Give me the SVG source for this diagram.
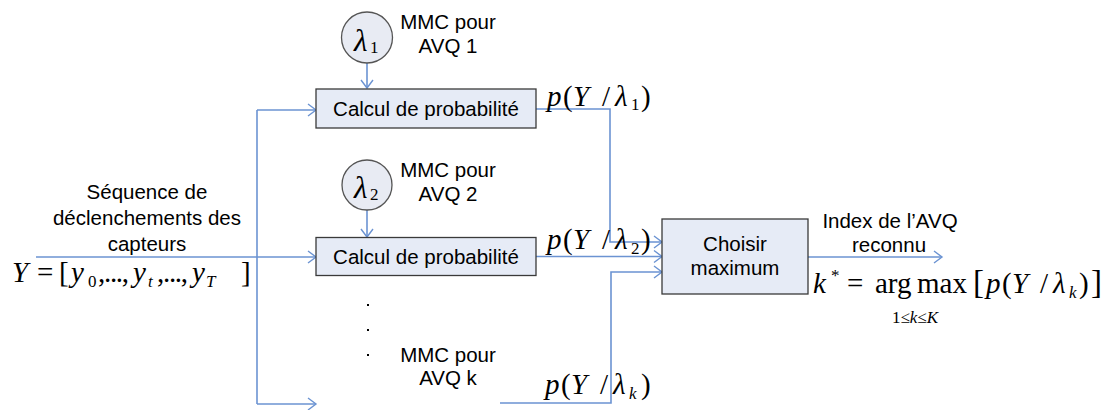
<svg xmlns="http://www.w3.org/2000/svg" width="1104" height="410" viewBox="0 0 1104 410">
<style>
.lbl{font-family:"Liberation Sans",Arial,sans-serif;font-size:20.5px;fill:#000}
.m{font-family:"Liberation Serif","Times New Roman",serif;font-size:29px;fill:#000}
.i{font-style:italic}
.s{font-size:17px}
.box{fill:#e6ebf6;stroke:#3a3a3a;stroke-width:1.3}
.circ{fill:#e8ebf3;stroke:#555;stroke-width:1.3}
.ln{fill:none;stroke:#6b93d2;stroke-width:1.6}
</style>
<defs>
<marker id="ah" markerUnits="userSpaceOnUse" markerWidth="10" markerHeight="14" refX="8" refY="6.5" orient="auto" overflow="visible">
<path d="M0,0.5 L8,6.5 L0,12.5" fill="none" stroke="#6b93d2" stroke-width="1.4"/>
</marker>
</defs>
<rect width="1104" height="410" fill="#fff"/>

<g id="connectors">
<path class="ln" d="M36,257 H316" marker-end="url(#ah)"/>
<path class="ln" d="M257,110 V404"/>
<path class="ln" d="M257,110 H316" marker-end="url(#ah)"/>
<path class="ln" d="M257,404 H316" marker-end="url(#ah)"/>
<path class="ln" d="M367,63 V88" marker-end="url(#ah)"/>
<path class="ln" d="M367,210 V237" marker-end="url(#ah)"/>
<path class="ln" d="M536,109 H610 V242 H662" marker-end="url(#ah)"/>
<path class="ln" d="M536,256.5 H662" marker-end="url(#ah)"/>
<path class="ln" d="M500,403 H611 V272 H662" marker-end="url(#ah)"/>
<path class="ln" d="M808,257 H942" marker-end="url(#ah)"/>
</g>

<g id="input-label">
<text class="lbl" x="147" y="199" text-anchor="middle">Séquence de</text>
<text class="lbl" x="147" y="225" text-anchor="middle">déclenchements des</text>
<text class="lbl" x="147" y="251" text-anchor="middle">capteurs</text>
<text class="m" y="282"><tspan class="i" x="12">Y</tspan><tspan x="37">=</tspan><tspan x="59">[</tspan><tspan class="i" x="71">y</tspan><tspan class="s" x="88" dy="5">0</tspan><tspan x="98" dy="-5" textLength="31" lengthAdjust="spacing">,...,</tspan><tspan class="i" x="133">y</tspan><tspan class="s i" x="148" dy="5">t</tspan><tspan x="157" dy="-5" textLength="31" lengthAdjust="spacing">,...,</tspan><tspan class="i" x="192">y</tspan><tspan class="s i" x="206" dy="5">T</tspan><tspan x="241" dy="-5">]</tspan></text>
</g>

<g id="model1">
<circle class="circ" cx="367" cy="37.5" r="25.5"/>
<text class="m" y="51" style="font-size:31px"><tspan class="i" x="354">λ</tspan><tspan class="s" x="370" dy="2">1</tspan></text>
<text class="lbl" x="448" y="29" text-anchor="middle">MMC pour</text>
<text class="lbl" x="448" y="53" text-anchor="middle">AVQ 1</text>
</g>

<g id="calc1">
<rect class="box" x="316" y="89" width="220" height="39"/>
<text class="lbl" x="426" y="116" text-anchor="middle">Calcul de probabilité</text>
</g>
<text class="m" y="106"><tspan class="i" x="547">p</tspan><tspan x="563">(</tspan><tspan class="i" x="573">Y</tspan><tspan x="602">/</tspan><tspan class="i" x="615">λ</tspan><tspan class="s" x="631" dy="4">1</tspan><tspan x="641" dy="-4">)</tspan></text>

<g id="model2">
<circle class="circ" cx="367" cy="185" r="25"/>
<text class="m" y="198" style="font-size:31px"><tspan class="i" x="354">λ</tspan><tspan class="s" x="370" dy="2">2</tspan></text>
<text class="lbl" x="448" y="177" text-anchor="middle">MMC pour</text>
<text class="lbl" x="448" y="201" text-anchor="middle">AVQ 2</text>
</g>

<g id="calc2">
<rect class="box" x="316" y="237.5" width="220" height="38"/>
<text class="lbl" x="426" y="264" text-anchor="middle">Calcul de probabilité</text>
</g>
<text class="m" y="249"><tspan class="i" x="547">p</tspan><tspan x="563">(</tspan><tspan class="i" x="573">Y</tspan><tspan x="602">/</tspan><tspan class="i" x="615">λ</tspan><tspan class="s" x="631" dy="5">2</tspan><tspan x="641" dy="-5">)</tspan></text>

<g id="modelk">
<rect x="367" y="304" width="2" height="2" fill="#000"/>
<rect x="367" y="329" width="2" height="2" fill="#000"/>
<rect x="367" y="354" width="2" height="2" fill="#000"/>
<text class="lbl" x="448" y="362" text-anchor="middle">MMC pour</text>
<text class="lbl" x="448" y="385" text-anchor="middle">AVQ k</text>
</g>
<text class="m" y="394"><tspan class="i" x="545">p</tspan><tspan x="561">(</tspan><tspan class="i" x="571">Y</tspan><tspan x="600">/</tspan><tspan class="i" x="613">λ</tspan><tspan class="s i" x="629" dy="5">k</tspan><tspan x="641" dy="-5">)</tspan></text>

<g id="choisir">
<rect class="box" x="662" y="219" width="146" height="75"/>
<text class="lbl" x="735" y="251" text-anchor="middle">Choisir</text>
<text class="lbl" x="735" y="275" text-anchor="middle">maximum</text>
</g>

<g id="output">
<text class="lbl" x="890" y="228" text-anchor="middle">Index de l’AVQ</text>
<text class="lbl" x="889" y="252" text-anchor="middle">reconnu</text>
<text class="m" y="293"><tspan class="i" x="813">k</tspan><tspan class="s" x="831" dy="-12">*</tspan><tspan x="847" dy="12">=</tspan><tspan x="875">arg</tspan><tspan x="917">max</tspan><tspan x="973" style="font-size:33px">[</tspan><tspan class="i" x="986">p</tspan><tspan x="1002">(</tspan><tspan class="i" x="1012">Y</tspan><tspan x="1040">/</tspan><tspan class="i" x="1053">λ</tspan><tspan class="s i" x="1069" dy="5">k</tspan><tspan x="1079" dy="-5">)</tspan><tspan x="1091" style="font-size:33px">]</tspan></text>
<text class="m" style="font-size:17px" x="915" y="323" text-anchor="middle">1≤<tspan class="i">k</tspan>≤<tspan class="i">K</tspan></text>
</g>
</svg>
